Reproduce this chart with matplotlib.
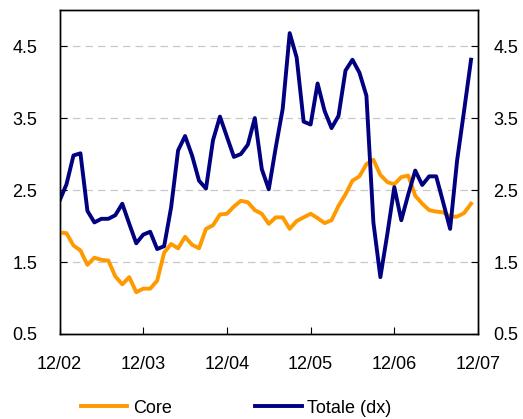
import numpy as np
import matplotlib.pyplot as plt

plt.rcParams['font.family'] = ['Liberation Sans', 'DejaVu Sans']

# monthly series, Dec 2002 - Nov 2007
core = [1.91, 1.90, 1.73, 1.66, 1.46, 1.56, 1.53, 1.52, 1.30, 1.19,
        1.29, 1.08, 1.13, 1.13, 1.24, 1.63, 1.75, 1.69, 1.85, 1.74,
        1.69, 1.96, 2.01, 2.16, 2.17, 2.27, 2.35, 2.33, 2.22, 2.17,
        2.03, 2.12, 2.12, 1.96, 2.07, 2.12, 2.17, 2.11, 2.04, 2.08,
        2.28, 2.44, 2.63, 2.69, 2.86, 2.92, 2.71, 2.61, 2.58, 2.68,
        2.70, 2.42, 2.31, 2.22, 2.20, 2.19, 2.13, 2.13, 2.18, 2.31]
totale = [2.35, 2.58, 2.98, 3.01, 2.21, 2.05, 2.10, 2.10, 2.15, 2.31,
          2.03, 1.76, 1.88, 1.92, 1.68, 1.72, 2.26, 3.05, 3.25, 2.98,
          2.63, 2.52, 3.19, 3.52, 3.24, 2.96, 3.00, 3.13, 3.50, 2.79,
          2.51, 3.09, 3.63, 4.68, 4.34, 3.45, 3.41, 3.98, 3.60, 3.36,
          3.53, 4.16, 4.31, 4.13, 3.81, 2.05, 1.29, 1.89, 2.54, 2.08,
          2.44, 2.77, 2.57, 2.69, 2.69, 2.33, 1.96, 2.91, 3.60, 4.31]
xlabels = ['12/02', '12/03', '12/04', '12/05', '12/06', '12/07']
yticks = [0.5, 1.5, 2.5, 3.5, 4.5]

months = np.arange(len(core))

fig = plt.figure(figsize=(5.23, 4.19), dpi=100)
ax = fig.add_axes([0.1138, 0.2029, 0.8002, 0.7731])
ax2 = ax.twinx()

l1, = ax.plot(months, core, color='#FF9900', lw=2.8, label='Core', zorder=3)
l2, = ax2.plot(months, totale, color='#000080', lw=2.8, label='Totale (dx)')

for a in (ax, ax2):
    a.set_ylim(0.5, 5.0)
    a.set_yticks(yticks)
    a.set_yticklabels([f'{v:.1f}' for v in yticks])
    a.set_xlim(0, 60)
    for s in a.spines.values():
        s.set_linewidth(1.0)
        s.set_color('black')

ax.set_xticks(np.arange(0, 61, 12))
ax.set_xticklabels(xlabels)
ax.tick_params(axis='x', direction='in', length=5, pad=16, labelsize=13)
ax.tick_params(axis='y', direction='in', length=5, pad=16, labelsize=13)
ax2.tick_params(axis='y', direction='in', length=5, pad=11, labelsize=13)

ax.yaxis.grid(True, color='#C8C8C8', ls=(0, (6, 4)), lw=0.9)
for line in ax.get_ygridlines()[:1]:
    line.set_visible(False)

fig.legend([l1, l2], ['Core', 'Totale (dx)'], loc='center',
           bbox_to_anchor=(236 / 523, 1 - 408 / 419), ncol=2, frameon=False,
           fontsize=13, handlelength=2.6, handletextpad=0.3, columnspacing=4.6)

fig.savefig('out.png', dpi=100)
